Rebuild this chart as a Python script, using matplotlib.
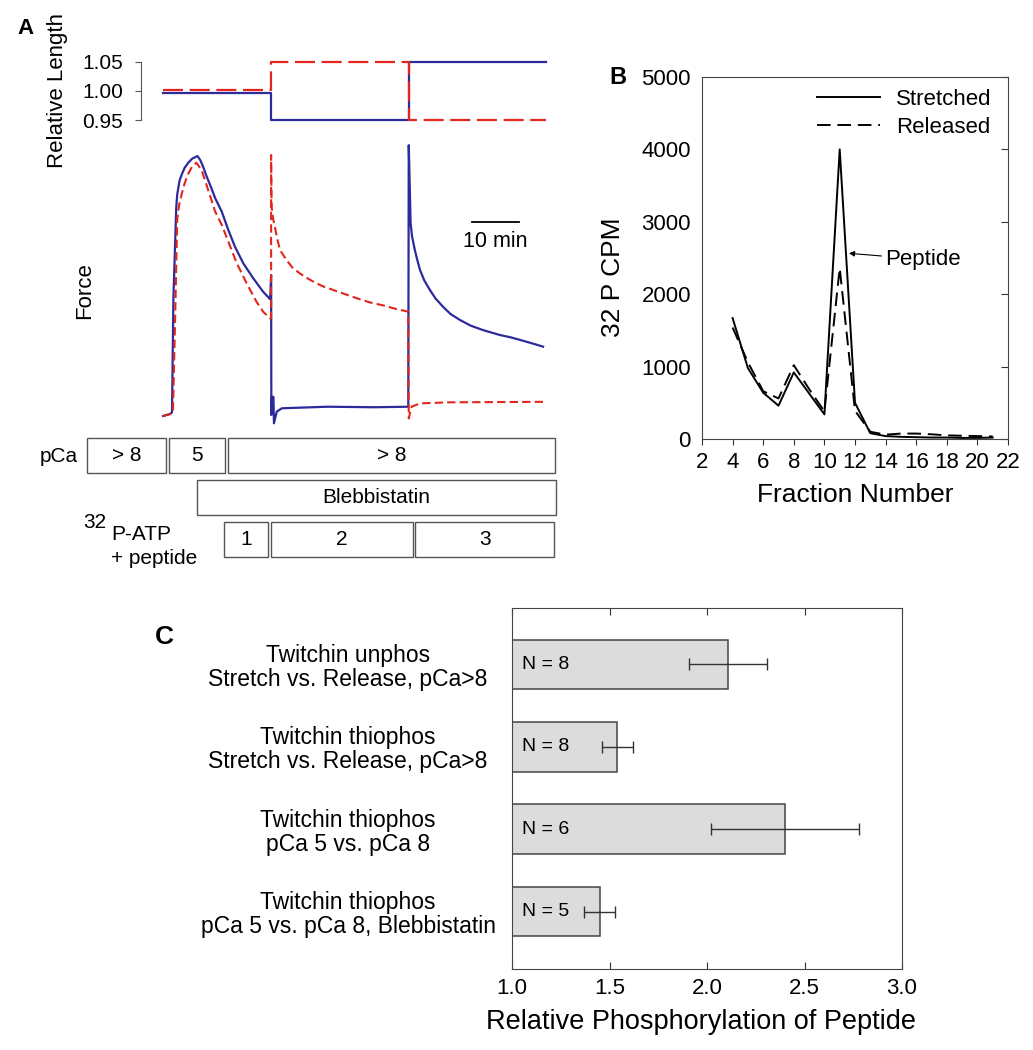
import matplotlib
matplotlib.use('Agg')
import matplotlib.pyplot as plt
from matplotlib.patches import Rectangle

plt.rcParams['font.family'] = ['Liberation Sans', 'DejaVu Sans']

W, H = 1033, 1050
BLUE = '#2d2a9c'
RED = '#e2261d'
GREY = '#555555'

# ---- panel A : relative length (time in min)
len_t = [0, 23.0, 23.0, 52.3, 52.3, 81.5]
len_blue = [0.997, 0.997, 0.95, 0.95, 1.05, 1.05]
len_red = [1.002, 1.002, 1.05, 1.05, 0.95, 0.95]

# ---- panel A : force (arbitrary units, peak ~1)
force_blue_t = [0, 1.5, 1.9, 2.2, 2.8, 3.0, 3.5, 4.0, 4.6, 5.4, 6.2, 7.3, 7.9, 8.5,
                9.3, 10.2, 11.1, 12.5, 13.9, 15.3, 17.1, 19.2, 21.3, 22.8, 23.0,
                23.05, 23.1, 23.5, 23.6, 24.2, 25.3, 35.0, 45.0, 52.2, 52.3, 52.7,
                53.0, 53.6, 54.1, 54.7, 55.6, 56.8, 58.0, 59.6, 61.2, 63.2, 65.5,
                68.1, 71.7, 74.0, 76.0, 78.5, 80.9]
force_blue = [-0.004, 0.004, 0.01, 0.45, 0.80, 0.85, 0.905, 0.93, 0.955, 0.975, 0.99,
              1.0, 0.985, 0.96, 0.92, 0.88, 0.837, 0.785, 0.714, 0.65, 0.585, 0.528,
              0.476, 0.447, 0.54, 0.0, 0.07, 0.07, -0.032, 0.013, 0.026, 0.032, 0.030,
              0.032, 1.042, 0.74, 0.69, 0.637, 0.60, 0.56, 0.52, 0.483, 0.45, 0.418,
              0.39, 0.367, 0.345, 0.328, 0.309, 0.30, 0.29, 0.277, 0.264]
force_red_t = [0, 1.5, 2.1, 2.6, 3.0, 3.4, 4.0, 4.6, 5.4, 6.2, 7.1, 8.2, 9.6, 11.1,
               12.5, 13.9, 15.7, 17.8, 19.9, 21.3, 22.8, 23.0, 23.0, 23.1, 23.4, 23.8,
               24.3, 24.9, 25.5, 26.3, 27.5, 29.1, 31.0, 32.7, 34.3, 36.2, 39.0, 41.9,
               44.0, 46.9, 49.5, 52.2, 52.3, 52.9, 54.7, 61.0, 81.6]
force_red = [-0.004, 0.004, 0.01, 0.40, 0.753, 0.81, 0.856, 0.895, 0.933, 0.96, 0.974,
             0.946, 0.869, 0.785, 0.734, 0.669, 0.586, 0.508, 0.437, 0.399, 0.373,
             0.373, 1.004, 0.804, 0.76, 0.727, 0.68, 0.637, 0.62, 0.598, 0.57, 0.547,
             0.525, 0.508, 0.495, 0.483, 0.465, 0.447, 0.435, 0.423, 0.41, 0.399,
             -0.013, 0.032, 0.045, 0.049, 0.051]

# ---- panel A : protocol bars (min)
pca_labels = ['> 8', '5', '> 8']
pca_start = [-16.2, 1.2, 13.9]
pca_end = [0.55, 13.1, 83.5]
bleb_start, bleb_end = 7.3, 83.6
atp_labels = ['1', '2', '3']
atp_start = [13.0, 22.9, 53.7]
atp_end = [22.4, 53.3, 83.3]

# ---- panel B
fractions = list(range(4, 22))
stretched = [1670, 980, 640, 460, 920, 630, 340, 4000, 500, 80, 40, 30, 25, 20, 20, 15, 15, 20]
released = [1540, 1060, 660, 560, 1020, 690, 380, 2360, 390, 100, 60, 75, 75, 65, 50, 45, 40, 35]

# ---- panel C
categories = ['Twitchin unphos\nStretch vs. Release, pCa>8',
              'Twitchin thiophos\nStretch vs. Release, pCa>8',
              'Twitchin thiophos\npCa 5 vs. pCa 8',
              'Twitchin thiophos\npCa 5 vs. pCa 8, Blebbistatin']
ratios = [2.11, 1.54, 2.40, 1.45]
errors = [0.20, 0.08, 0.38, 0.08]
n_values = [8, 8, 6, 5]


def box(l, t, r, b):
    return [l / W, 1 - b / H, (r - l) / W, (b - t) / H]


fig = plt.figure(figsize=(W / 100, H / 100), dpi=100)


def ftext(x, y, s, **kw):
    fig.text(x / W, 1 - y / H, s, **kw)


# length trace
ax_len = fig.add_axes(box(141, 45, 560, 135))
ax_len.plot(len_t, len_blue, color=BLUE, lw=1.6)
ax_len.plot(len_t, len_red, color=RED, lw=1.6, ls=(0, (9, 3)))
ax_len.set_xlim(-4.7, 84.5)
ax_len.set_ylim(0.9243, 1.0786)
for s in ['top', 'right', 'bottom']:
    ax_len.spines[s].set_visible(False)
ax_len.spines['left'].set_bounds(0.95, 1.05)
ax_len.spines['left'].set_color(GREY)
ax_len.set_yticks([0.95, 1.0, 1.05], ['0.95', '1.00', '1.05'])
ax_len.set_xticks([])
ax_len.tick_params(axis='y', direction='out', length=4, color=GREY, labelsize=15, pad=9)
ax_len.patch.set_alpha(0)

# force trace
ax_f = fig.add_axes(box(141, 140, 560, 432))
ax_f.plot(force_blue_t, force_blue, color=BLUE, lw=1.6)
ax_f.plot(force_red_t, force_red, color=RED, lw=1.5, ls=(0, (4, 2)))
ax_f.set_xlim(-4.7, 84.5)
ax_f.set_ylim(-0.0656, 1.062)
ax_f.axis('off')
ax_f.plot([65.8, 75.8], [0.744, 0.744], color='k', lw=1.3)
ax_f.text(70.8, 0.669, '10 min', ha='center', va='center', fontsize=15.5)

ftext(57, 91, 'Relative Length', rotation=90, ha='center', va='center', fontsize=16)
ftext(85, 291, 'Force', rotation=90, ha='center', va='center', fontsize=16)

# protocol
ax_p = fig.add_axes(box(0, 430, 560, 580))
ax_p.set_xlim(-34.7, 84.5)
ax_p.set_ylim(2.98, -0.62)
ax_p.axis('off')


def proto_box(a, b, row, label):
    ax_p.add_patch(Rectangle((a, row - 0.42), b - a, 0.84, facecolor='white',
                             edgecolor=GREY, lw=1))
    ax_p.text((a + b) / 2, row, label, ha='center', va='center', fontsize=15)


for a, b, lab in zip(pca_start, pca_end, pca_labels):
    proto_box(a, b, 0, lab)
proto_box(bleb_start, bleb_end, 1, 'Blebbistatin')
for a, b, lab in zip(atp_start, atp_end, atp_labels):
    proto_box(a, b, 2, lab)

ftext(78, 456, 'pCa', ha='right', va='center', fontsize=15)
ftext(83, 523, '32', ha='left', va='center', fontsize=15)
ftext(111, 534, 'P-ATP', ha='left', va='center', fontsize=15)
ftext(111, 559, '+ peptide', ha='left', va='center', fontsize=15)

# ---- panel B
ax_b = fig.add_axes(box(702, 77, 1008, 439))
ax_b.plot(fractions, stretched, color='k', lw=1.4, label='Stretched')
ax_b.plot(fractions, released, color='k', lw=1.4, ls=(0, (7, 3.5)), label='Released')
ax_b.set_xlim(2, 22)
ax_b.set_ylim(0, 5000)
ax_b.set_xticks(range(2, 23, 2))
ax_b.set_yticks(range(0, 5001, 1000))
ax_b.tick_params(axis='x', direction='out', length=4, labelsize=16, pad=5, color='#333333')
ax_b.tick_params(axis='y', left=False, right=True, direction='in', length=5,
                 labelsize=16, pad=8, color='#333333')
for s in ax_b.spines.values():
    s.set_color('#444444')
leg = ax_b.legend(loc='upper right', bbox_to_anchor=(0.98, 0.994), frameon=False,
                  fontsize=16, handlelength=2.8, handletextpad=0.75,
                  labelspacing=0.3, borderaxespad=0.05)
ax_b.annotate('Peptide', xy=(11.6, 2565), xytext=(14.0, 2480), fontsize=16,
              va='center', ha='left',
              arrowprops=dict(arrowstyle='-|>', color='k', lw=0.8,
                              mutation_scale=8, shrinkA=1, shrinkB=0))
ftext(855, 495, 'Fraction Number', ha='center', va='center', fontsize=19)
ftext(613, 277, '32 P CPM', rotation=90, ha='center', va='center', fontsize=19)

# ---- panel C
ax_c = fig.add_axes(box(512, 607.5, 902, 969.3))
pos = range(len(categories))
ax_c.barh(pos, [r - 1 for r in ratios], left=1, height=0.6, color='#dcdcdc',
          edgecolor='#444444', lw=1.1)
ax_c.errorbar(ratios, pos, xerr=errors, fmt='none', ecolor='#333333', elinewidth=1,
              capsize=4, capthick=1)
for p, n in zip(pos, n_values):
    ax_c.text(1.05, p, 'N = %d' % n, ha='left', va='center', fontsize=14)
ax_c.set_xlim(1, 3)
ax_c.set_ylim(3.70, -0.69)
ax_c.set_xticks([1.0, 1.5, 2.0, 2.5, 3.0], ['1.0', '1.5', '2.0', '2.5', '3.0'])
ax_c.set_yticks(list(pos), categories)
ax_c.tick_params(axis='x', direction='in', top=True, length=5, labelsize=16, pad=6,
                 color='#333333')
ax_c.tick_params(axis='y', length=0, pad=118, labelsize=16.5)
for lbl in ax_c.get_yticklabels():
    lbl.set_ha('center')
    lbl.set_linespacing(1.05)
for s in ax_c.spines.values():
    s.set_color('#444444')
ftext(701, 1022, 'Relative Phosphorylation of Peptide', ha='center', va='center',
      fontsize=19.5)

# panel letters
ftext(25, 29, 'A', ha='center', va='center', fontsize=16, fontweight='bold')
ftext(618, 77, 'B', ha='center', va='center', fontsize=17, fontweight='bold')
ftext(164, 637, 'C', ha='center', va='center', fontsize=19, fontweight='bold')

fig.savefig('out.png', dpi=100)
